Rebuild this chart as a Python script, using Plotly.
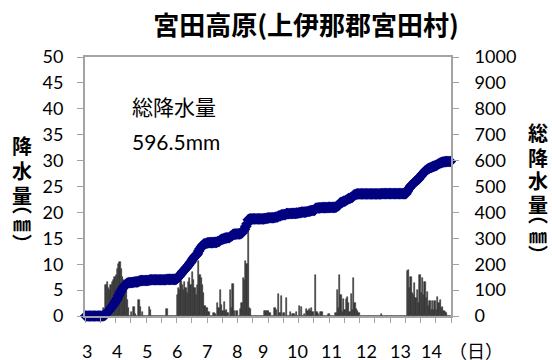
import numpy as np
import plotly.graph_objects as go

# ---- data: hourly precipitation (mm) for days 3..14, 24 values per day ----
day_labels = ["3", "4", "5", "6", "7", "8", "9", "10", "11", "12", "13", "14", "（日）"]

rain_d03 = [0, 0, 0, 0, 0, 0, 0, 0, 0, 0, 0, 0, 0, 0, 1.5, 0.5, 6.0, 6.5, 5.5, 5.0, 6.0, 6.5, 7.0, 7.5]
rain_d04 = [8.0, 9.0, 10.0, 10.5, 9.0, 7.5, 7.0, 6.0, 5.0, 3.0, 1.5, 0, 0.8, 0, 1.8, 0.3, 0, 0, 3.0, 1.8, 0, 0.8, 0, 0]
rain_d05 = [0, 0, 1.7, 1.2, 0, 0, 0, 0, 0, 0, 0, 0, 0, 0, 0, 0, 1.3, 0, 0, 0, 0, 0, 0, 0]
rain_d06 = [4.0, 5.5, 5.0, 6.8, 6.0, 5.0, 6.5, 5.5, 4.5, 6.5, 7.4, 6.0, 8.4, 7.0, 5.5, 4.0, 6.0, 10.6, 8.0, 7.4, 6.0, 4.5, 2.0, 1.6]
rain_d07 = [1.6, 0.8, 0, 0, 0, 0.6, 0.4, 0, 2.6, 1.5, 5.0, 2.2, 1.0, 2.8, 1.0, 1.2, 0.6, 0, 5.1, 1.5, 6.1, 1.0, 0, 1.0]
rain_d08 = [0, 0, 1.3, 2.5, 7.4, 7.0, 10.6, 10.0, 16.4, 1.6, 1.3, 0, 0, 0, 0, 0, 0, 0, 0, 0, 0, 1.0, 1.0, 0.9]
rain_d09 = [0.9, 0.6, 0, 0, 0, 1.6, 1.2, 0, 4.2, 0.5, 3.9, 0, 0.6, 0, 3.5, 0, 0, 0.8, 0, 0.3, 0.3, 0, 0.8, 0]
rain_d10 = [2.0, 0, 1.8, 0, 0.3, 0, 1.3, 1.0, 1.3, 1.0, 1.6, 0.8, 0, 7.9, 0.8, 0.3, 0, 0.8, 0.8, 0, 0, 0, 0, 0.3]
rain_d11 = [0.3, 0, 0, 0, 0, 0.6, 5.0, 1.5, 8.0, 4.0, 0.8, 3.2, 1.2, 3.2, 3.6, 2.5, 0.8, 4.2, 1.2, 7.3, 2.5, 1.4, 1.0, 0.5]
rain_d12 = [0, 0, 0, 0, 0, 0, 0, 0, 0, 0, 0, 0, 0, 0, 0, 0, 0, 0.4, 0, 0, 0, 0, 0, 0]
rain_d13 = [0, 0, 0, 0, 0, 0, 0, 0, 0, 0, 0, 0, 0, 8.7, 8.9, 5.5, 7.6, 4.5, 4.0, 6.3, 3.5, 5.0, 2.5, 8.0]
rain_d14 = [4.5, 7.3, 4.0, 6.6, 3.5, 4.7, 2.0, 2.9, 1.2, 2.9, 1.2, 2.9, 1.2, 3.7, 2.5, 3.0, 1.5, 1.8, 1.0, 0.8, 0.5, 0, 0, 0]

hourly = np.array(rain_d03 + rain_d04 + rain_d05 + rain_d06 + rain_d07 + rain_d08 +
                  rain_d09 + rain_d10 + rain_d11 + rain_d12 + rain_d13 + rain_d14, dtype=float)
hours = np.arange(len(hourly)) + 0.5
cumulative = np.cumsum(hourly)
total = cumulative[-1]

# ---- layout geometry (pixels) ----
W, H = 552, 360
L, R, T, B = 85, 451, 57, 316
def px_x(px):
    return (px - L) / (R - L)
def px_y(py):
    return (B - py) / (B - T)

# x label centers (pixels) as drawn in the reference
label_px = [87.3, 116.7, 146.7, 176.7, 206.7, 236.7, 263, 297, 331, 366.7, 400, 431.7, 476]

NUM_FONT = "Lato, 'Noto Sans CJK JP', sans-serif"
CJK_FONT = "'Noto Sans CJK JP', sans-serif"
AXIS_GRAY = "#a3a3a3"
BAR_GRAY = "#383838"

fig = go.Figure()
fig.add_trace(go.Bar(x=hours, y=hourly, marker_color=BAR_GRAY,
                     marker_line=dict(color=BAR_GRAY, width=0.6),
                     yaxis="y", showlegend=False, hoverinfo="skip"))
fig.add_trace(go.Scatter(x=hours, y=cumulative, mode="lines+markers", yaxis="y2",
                         line=dict(color="#000080", width=3),
                         marker=dict(symbol="diamond", size=9, color="#000080"),
                         cliponaxis=False, showlegend=False, hoverinfo="skip"))

annotations = []
for txt, px in zip(day_labels, label_px):
    annotations.append(dict(text=txt, xref="paper", yref="paper", x=px_x(px), y=px_y(351),
                            xanchor="center", yanchor="middle", showarrow=False,
                            font=dict(family=NUM_FONT, size=18, color="#000")))

# vertical axis titles: (character, y-centre px, font size)
left_title = [("降", 145, 20), ("水", 170, 20), ("量", 195, 20),
              ("︵", 203, 20), ("㎜", 223, 18), ("︶", 243, 20)]
for ch, py, fs in left_title:
    annotations.append(dict(text="<b>%s</b>" % ch, xref="paper", yref="paper", x=px_x(22), y=px_y(py),
                            xanchor="center", yanchor="middle", showarrow=False,
                            font=dict(family=CJK_FONT, size=fs, color="#000")))

right_title = [("総", 132, 20), ("降", 157, 20), ("水", 180, 20), ("量", 204, 20),
               ("︵", 213, 20), ("㎜", 235, 18), ("︶", 254, 20)]
for ch, py, fs in right_title:
    annotations.append(dict(text="<b>%s</b>" % ch, xref="paper", yref="paper", x=px_x(538), y=px_y(py),
                            xanchor="center", yanchor="middle", showarrow=False,
                            font=dict(family=CJK_FONT, size=fs, color="#000")))

annotations.append(dict(text="総降水量", xref="paper", yref="paper", x=px_x(130), y=px_y(106),
                        xanchor="left", yanchor="middle", showarrow=False,
                        font=dict(family=CJK_FONT, size=21, color="#000")))
annotations.append(dict(text="%.1fmm" % total, xref="paper", yref="paper", x=px_x(130), y=px_y(141),
                        xanchor="left", yanchor="middle", showarrow=False,
                        font=dict(family=NUM_FONT, size=21, color="#000")))

fig.update_layout(
    width=W, height=H,
    margin=dict(l=L, r=W - R, t=T, b=H - B, pad=0),
    paper_bgcolor="white", plot_bgcolor="white",
    bargap=0,
    title=dict(text="<b>宮田高原(上伊那郡宮田村)</b>", x=306 / W, xanchor="center",
               y=1 - 26 / H, yanchor="middle", yref="container", xref="container",
               font=dict(family=CJK_FONT, size=26, color="#000")),
    xaxis=dict(range=[0, len(hourly)], showline=True, linecolor=AXIS_GRAY, linewidth=2, mirror=True,
               ticks="outside", tickvals=list(range(0, len(hourly) + 1, 12)), ticklen=5,
               tickcolor=AXIS_GRAY, tickwidth=1, showticklabels=False,
               showgrid=False, zeroline=False, fixedrange=True),
    yaxis=dict(range=[0, 50], dtick=5, showline=True, linecolor=AXIS_GRAY, linewidth=2,
               ticks="outside", ticklen=6, tickcolor=AXIS_GRAY, tickwidth=1,
               tickfont=dict(family=NUM_FONT, size=18, color="#000"), ticklabelstandoff=10,
               showgrid=False, zeroline=False),
    yaxis2=dict(range=[0, 1000], dtick=100, overlaying="y", side="right", showline=True,
                linecolor=AXIS_GRAY, linewidth=2, ticks="outside", ticklen=6, tickcolor=AXIS_GRAY,
                tickwidth=1, tickfont=dict(family=NUM_FONT, size=18, color="#000"),
                ticklabelstandoff=12, showgrid=False, zeroline=False),
    annotations=annotations,
)

fig.write_html("out.html", config={"displayModeBar": False},
               post_script="document.body.style.margin='0';document.body.style.overflow='hidden';")
